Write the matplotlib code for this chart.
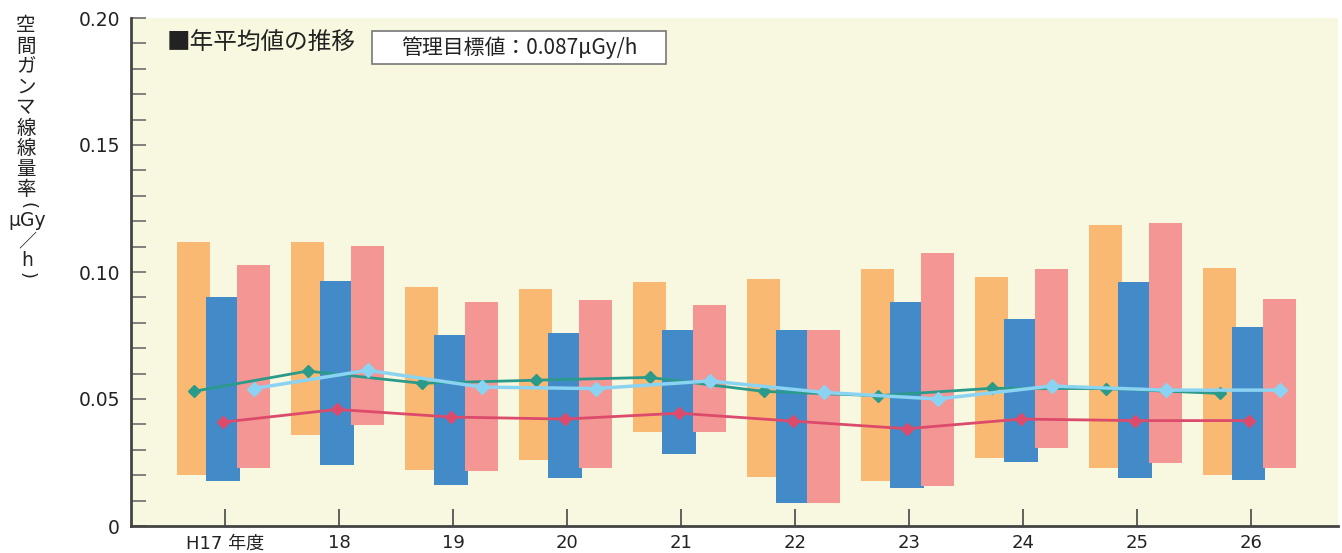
import matplotlib
matplotlib.use("Agg")
import matplotlib.pyplot as plt
from matplotlib.patches import Rectangle
import numpy as np

plt.rcParams['font.family'] = ['Noto Sans CJK JP', 'DejaVu Sans']
NUMFONT = ['DejaVu Sans', 'Noto Sans CJK JP']

years = ["H17 年度", "18", "19", "20", "21", "22", "23", "24", "25", "26"]

# floating bars: (min, max)
orange_low = [0.0201, 0.0358, 0.0220, 0.0260, 0.0371, 0.0193, 0.0177, 0.0269, 0.0230, 0.0201]
orange_high = [0.1118, 0.1118, 0.0941, 0.0933, 0.0961, 0.0972, 0.1012, 0.0980, 0.1185, 0.1016]
blue_low = [0.0177, 0.0240, 0.0161, 0.0189, 0.0283, 0.0091, 0.0150, 0.0253, 0.0190, 0.0182]
blue_high = [0.0902, 0.0965, 0.0752, 0.0760, 0.0772, 0.0772, 0.0882, 0.0815, 0.0961, 0.0783]
pink_low = [0.0228, 0.0398, 0.0217, 0.0228, 0.0371, 0.0091, 0.0157, 0.0308, 0.0248, 0.0230]
pink_high = [0.1028, 0.1102, 0.0882, 0.0890, 0.0870, 0.0772, 0.1075, 0.1012, 0.1193, 0.0894]

# annual means
green_mean = [0.0530, 0.0610, 0.0562, 0.0574, 0.0585, 0.0530, 0.0513, 0.0542, 0.0541, 0.0522]
red_mean = [0.0409, 0.0459, 0.0429, 0.0421, 0.0444, 0.0413, 0.0383, 0.0421, 0.0415, 0.0415]
lblue_mean = [0.0541, 0.0613, 0.0547, 0.0541, 0.0571, 0.0526, 0.0500, 0.0551, 0.0535, 0.0535]

yticks = [0, 0.05, 0.10, 0.15, 0.20]
ytick_labels = ["0", "0.05", "0.10", "0.15", "0.20"]

c_orange = "#F9B972"
c_blue = "#438BC8"
c_pink = "#F49694"
c_green = "#2A9A8A"
c_red = "#DC4B6B"
c_lblue = "#8AD3F2"
bg = "#F8F7DF"
txt = "#222222"

W, H = 1342, 553
fig = plt.figure(figsize=(W/100, H/100), dpi=100)
ax = fig.add_axes([131/W, 1-526/H, (1338-131)/W, 508/H])
ax.set_facecolor(bg)

x = np.arange(len(years))
w = 0.29
off_o, off_b, off_p = -0.276, -0.018, 0.25

ax.bar(x + off_o, np.array(orange_high) - np.array(orange_low), bottom=orange_low,
       width=w, color=c_orange, zorder=2)
ax.bar(x + off_b, np.array(blue_high) - np.array(blue_low), bottom=blue_low,
       width=w, color=c_blue, zorder=3)
ax.bar(x + off_p, np.array(pink_high) - np.array(pink_low), bottom=pink_low,
       width=w, color=c_pink, zorder=4)

ax.plot(x + off_o, green_mean, color=c_green, lw=2, marker="D", ms=6.5, zorder=5)
ax.plot(x + off_b, red_mean, color=c_red, lw=2, marker="D", ms=6.5, zorder=5)
ax.plot(x + off_p, lblue_mean, color=c_lblue, lw=2.5, marker="D", ms=7.5, zorder=6)

ax.set_xlim(-0.825, 9.763)
ax.set_ylim(0, 0.20)
ax.set_xticks(x)
ax.set_xticklabels(years, fontsize=13, color=txt, family=NUMFONT)
ax.set_yticks(yticks)
ax.set_yticklabels(ytick_labels, fontsize=13.5, color=txt, family=NUMFONT)
ax.set_yticks(np.arange(0, 0.2001, 0.01), minor=True)
ax.tick_params(axis="y", which="both", direction="in", length=11, width=1.3,
               color="#777777", pad=8)
ax.tick_params(axis="x", which="major", direction="in", length=12, width=1.3,
               color="#555555", pad=6)
for s in ["top", "right"]:
    ax.spines[s].set_visible(False)
for s in ["left", "bottom"]:
    ax.spines[s].set_color("#444444")
    ax.spines[s].set_linewidth(2)

def fx(px):
    return px / W

def fy(py):
    return 1 - py / H

fig.text(fx(167), fy(42), "■年平均値の推移", fontsize=17, color=txt, va="center", ha="left")

fig.patches.append(Rectangle((fx(372), fy(64)), fx(666) - fx(372), fy(31) - fy(64),
                             transform=fig.transFigure, facecolor="white",
                             edgecolor="#777777", lw=1.2, zorder=5))
fig.text(fx(519), fy(47.5), "管理目標値：0.087μGy/h", fontsize=15, color=txt,
         va="center", ha="center", family=['Noto Sans CJK JP', 'DejaVu Sans'], zorder=6)

# vertical y-axis label
fig.text(fx(26), fy(15), "空\n間\nガ\nン\nマ\n線\n線\n量\n率", fontsize=14,
         color=txt, ha="center", va="top", linespacing=0.97)
fig.text(fx(27), fy(205), "(", fontsize=13, color=txt, ha="center", va="center",
         rotation=-90, family=NUMFONT)
fig.text(fx(27), fy(221), "μGy", fontsize=13.5, color=txt, ha="center", va="center",
         family=NUMFONT)
fig.text(fx(27), fy(241), "／", fontsize=13, color=txt, ha="center", va="center")
fig.text(fx(27), fy(260), "h", fontsize=13.5, color=txt, ha="center", va="center",
         family=NUMFONT)
fig.text(fx(27), fy(275), ")", fontsize=13, color=txt, ha="center", va="center",
         rotation=-90, family=NUMFONT)

fig.savefig("out.png", dpi=100)
